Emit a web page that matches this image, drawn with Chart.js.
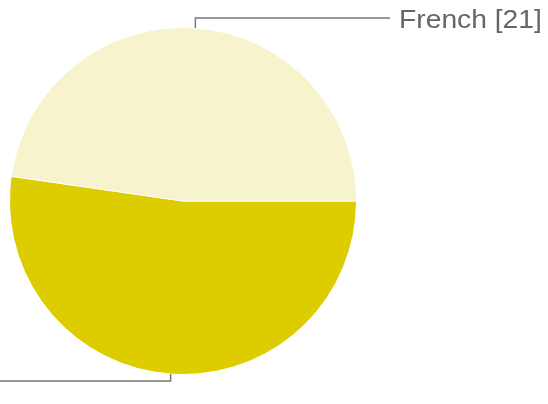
<!DOCTYPE html>
<html>
<head>
<meta charset="utf-8">
<script src="https://cdn.jsdelivr.net/npm/chart.js@4/dist/chart.umd.min.js"></script>
<style>
  html, body { margin: 0; padding: 0; background: #fff; }
  #wrap { width: 548px; height: 404px; }
</style>
</head>
<body>
<div id="wrap"><canvas id="pie"></canvas></div>
<script>
// Two slices; the second label sits off the left edge in the original.
const labels = ["English", "French"];
const counts = [23, 21];
const colors = ["#ddcc00", "#f7f3cc"];

// Draws elbow leader lines from each slice's arc midpoint to its label.
const leaderLabels = {
  id: "leaderLabels",
  afterDatasetsDraw(chart) {
    const { ctx } = chart;
    const arcs = chart.getDatasetMeta(0).data;
    ctx.save();
    ctx.strokeStyle = "#777";
    ctx.lineWidth = 1.5;
    ctx.fillStyle = "#666";
    ctx.font = "25px 'Liberation Sans', Arial, sans-serif";
    ctx.textBaseline = "alphabetic";
    arcs.forEach((arc, i) => {
      const p = arc.getProps(["x", "y", "startAngle", "endAngle", "outerRadius"], true);
      const mid = (p.startAngle + p.endAngle) / 2;
      const ax = p.x + Math.cos(mid) * p.outerRadius;
      const ay = p.y + Math.sin(mid) * p.outerRadius;
      const up = Math.sin(mid) < 0;
      const ey = up ? ay - 10 : ay + 7;
      const right = i === 1;
      const ex = right ? 390 : -20;
      ctx.beginPath();
      ctx.moveTo(ax, ay);
      ctx.lineTo(ax, ey);
      ctx.lineTo(ex, ey);
      ctx.stroke();
      // the original's label face is a bit wider than Liberation Sans
      const text = `${labels[i]} [${counts[i]}]`;
      const tx = right ? ex + 9 : ex - 9;
      ctx.save();
      ctx.translate(tx, ey + 10);
      ctx.scale(1.13, 1);
      ctx.textAlign = right ? "left" : "right";
      ctx.fillText(text, 0, 0);
      ctx.restore();
    });
    ctx.restore();
  },
};

new Chart(document.getElementById("pie"), {
  type: "pie",
  data: {
    labels: labels,
    datasets: [{
      data: counts,
      backgroundColor: colors,
      borderColor: "#fff",
      borderWidth: 1,
    }],
  },
  options: {
    responsive: true,
    maintainAspectRatio: false,
    animation: false,
    rotation: 90,
    layout: { padding: { left: 9, right: 191, top: 27, bottom: 29 } },
    plugins: { legend: { display: false }, tooltip: { enabled: false } },
  },
  plugins: [leaderLabels],
});
</script>
</body>
</html>
